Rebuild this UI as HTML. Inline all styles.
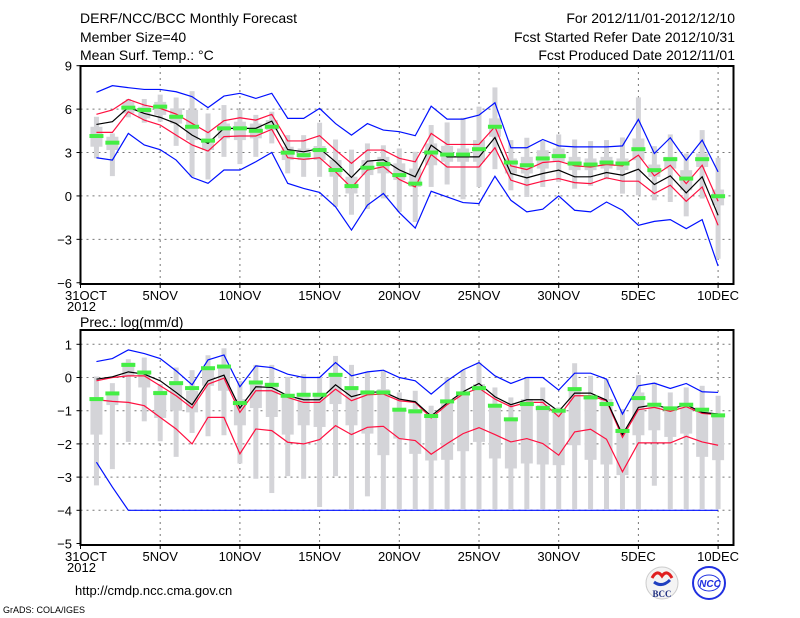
<!DOCTYPE html>
<html><head><meta charset="utf-8"><style>
html,body{margin:0;padding:0;background:#fff;}
svg{display:block;font-family:"Liberation Sans",sans-serif;}
</style></head><body>
<svg id="c" width="800" height="618" viewBox="0 0 800 618" xmlns="http://www.w3.org/2000/svg">
<text x="80" y="23" font-size="14">DERF/NCC/BCC Monthly Forecast</text>
<text x="80" y="42" font-size="14">Member Size=40</text>
<text x="80" y="60" font-size="14">Mean Surf. Temp.: °C</text>
<text x="735" y="23" font-size="14" text-anchor="end">For 2012/11/01-2012/12/10</text>
<text x="735" y="42" font-size="14" text-anchor="end">Fcst Started Refer Date 2012/10/31</text>
<text x="735" y="60" font-size="14" text-anchor="end">Fcst Produced Date 2012/11/01</text>
<text x="80" y="327" font-size="14">Prec.: log(mm/d)</text>
<text x="75" y="595" font-size="13">http://cmdp.ncc.cma.gov.cn</text>
<text x="3" y="613" font-size="9">GrADS: COLA/IGES</text>
<g>
<circle cx="662" cy="583" r="16" fill="#f4f4f4" stroke="#ccc"/>
<path d="M652 578 q5 -9 10 -2 q5 -7 10 2" fill="none" stroke="#e02020" stroke-width="3"/>
<path d="M654 582 q8 6 16 -2" fill="none" stroke="#2040c0" stroke-width="3"/>
<text x="662" y="597" font-size="9" font-weight="bold" text-anchor="middle" fill="#203080" font-family="Liberation Serif,serif">BCC</text>
</g>
<g>
<circle cx="709" cy="583" r="16" fill="#fff" stroke="#2030e0" stroke-width="2"/>
<ellipse cx="709" cy="583" rx="11" ry="8" fill="none" stroke="#2030e0"/>
<text x="710" y="587" font-size="10" font-weight="bold" font-style="italic" text-anchor="middle" fill="#2030e0">NCC</text>
</g>
<g id="plots"></g>
</svg>
<script>
// ---- Temperature panel data (days Nov1..Dec10) ----
const tMean=[4.94,5.13,6.12,5.7,5.43,5.0,4.2,3.63,4.67,4.67,4.67,5.17,3.2,3.05,3.28,2.36,1.28,2.4,2.5,1.8,1.32,3.51,2.7,2.7,2.7,4.04,1.55,1.25,1.55,1.78,1.32,1.32,1.62,1.43,1.85,0.79,1.39,0.21,1.32,-1.34];
const tRedHi=[5.64,5.94,6.67,6.28,6.05,5.66,5.01,4.37,5.2,5.4,5.24,5.64,3.8,3.8,4.16,3.17,2.25,3.17,3.17,2.6,2.36,4.32,3.56,3.56,3.56,4.78,2.08,1.82,2.31,2.4,2.08,2.0,2.17,2.08,2.82,1.39,2.12,0.85,2.12,-0.37];
const tRedLo=[4.39,4.39,5.82,5.24,4.9,4.2,3.52,3.1,4.1,4.14,4.14,4.6,2.64,2.53,2.64,1.67,0.57,1.79,2.02,1.14,0.62,2.86,2.0,2.0,2.0,3.33,1.09,0.74,1.02,1.2,0.92,0.85,1.25,1.02,1.02,0.16,0.74,-0.37,0.62,-2.03];
const tBlueHi=[7.16,7.62,7.48,7.36,7.36,7.2,6.86,6.1,6.9,7.09,6.74,7.09,5.36,5.36,6.05,5.0,4.2,5.0,4.55,4.44,4.16,6.2,5.31,5.31,5.59,6.44,3.33,3.33,3.9,3.46,3.39,3.39,3.39,3.46,5.29,2.93,4.02,2.47,3.86,1.66];
const tBlueLo=[2.64,2.48,4.32,3.52,3.2,2.48,1.28,0.87,1.79,1.79,2.36,3.0,0.87,0.52,0.24,-0.75,-2.36,-0.64,0.17,-1.15,-2.22,0.32,-0.07,-0.46,-0.53,1.36,-0.3,-1.1,-0.92,0,-0.99,-1.1,-0.42,-0.99,-2.03,-1.76,-1.64,-2.26,-1.64,-4.85];
const tObs=[4.14,3.68,6.1,5.94,6.17,5.47,4.78,3.82,4.67,4.67,4.5,4.78,2.99,2.82,3.17,1.79,0.68,1.95,2.2,1.44,0.85,3.0,2.86,2.86,3.23,4.78,2.31,2.12,2.59,2.75,2.24,2.17,2.31,2.24,3.23,1.78,2.54,1.2,2.54,-0.02];
const tWhiskHi=[5.47,4.32,6.7,6.7,7.0,6.8,7.24,5.7,6.28,5.94,5.6,5.82,4.2,4.2,5.06,3.9,3.2,3.63,3.5,3.28,3.05,4.9,5.08,5.4,6.17,7.5,3.86,4.02,3.79,4.25,3.9,3.79,3.86,4.04,6.81,3.44,4.25,2.93,4.55,2.63];
const tWhiskLo=[2.6,1.37,5.43,5.06,5.13,3.46,1.32,1.14,2.7,2.2,2.7,3.63,1.56,1.32,1.32,-0.75,-1.3,-0.9,-0.17,-1.1,-1.8,0.62,0.79,-0.23,0.62,1.85,0.39,-0.07,0.62,0.97,0.5,0.69,1.15,0.16,0.05,-0.3,-0.42,-1.41,-0.18,-4.34];
const tBoxHi=[4.78,4.09,6.5,6.16,6.5,6.05,5.94,3.98,5.0,5.13,5.0,5.24,3.4,3.28,3.45,2.48,1.33,2.48,2.7,2.25,1.89,3.63,3.46,3.28,3.86,5.36,2.59,2.7,3.16,3.28,2.7,2.59,2.7,2.59,3.97,2.17,2.7,1.78,2.93,0.44];
const tBoxLo=[3.4,3.17,5.7,5.36,5.6,5.0,3.86,3.17,3.98,3.86,3.98,4.55,2.48,2.48,2.48,1.33,0.17,1.44,1.56,1.1,0.62,2.12,2.36,2.36,2.36,4.09,1.55,1.55,1.89,2.36,1.78,1.78,1.89,1.78,2.47,1.32,1.89,0.39,2.0,-0.65];
const tTicks=[9,6,3,0,-3,-6];
// ---- Precipitation panel data ----
const pMean=[-0.05,0.02,0.17,0.1,-0.1,-0.45,-0.82,-0.1,0.07,-0.92,-0.28,-0.3,-0.55,-0.67,-0.67,-0.22,-0.58,-0.45,-0.43,-0.65,-0.73,-1.16,-0.77,-0.43,-0.18,-0.58,-0.82,-0.67,-0.67,-1.02,-0.47,-0.47,-0.68,-1.72,-0.9,-0.82,-0.95,-0.82,-1.05,-1.1];
const pRedHi=[-0.1,0.0,0.05,0.05,-0.25,-0.55,-0.92,-0.2,-0.02,-1.05,-0.4,-0.4,-0.6,-0.75,-0.75,-0.35,-0.7,-0.52,-0.5,-0.7,-0.75,-1.22,-0.82,-0.5,-0.32,-0.65,-0.88,-0.75,-0.75,-1.18,-0.55,-0.55,-0.7,-1.8,-0.97,-0.9,-1.02,-0.88,-1.08,-1.12];
const pRedLo=[-0.67,-0.72,-0.75,-0.85,-1.2,-1.55,-2.0,-1.2,-1.2,-2.3,-1.55,-1.6,-1.95,-2.0,-1.87,-1.45,-1.72,-1.5,-1.47,-1.84,-1.9,-2.31,-1.99,-1.69,-1.51,-1.72,-1.94,-1.84,-1.99,-2.34,-1.64,-1.56,-1.86,-2.84,-1.97,-1.97,-1.97,-1.77,-1.94,-2.04];
const pBlueHi=[0.48,0.57,0.83,0.72,0.57,0.2,-0.22,0.53,0.68,-0.28,0.35,0.3,0.1,0,0,0.45,0.05,0.17,0.22,0,-0.1,-0.5,-0.1,0.23,0.45,0.05,-0.18,0,0,-0.38,0.13,0.13,-0.05,-1.1,-0.25,-0.17,-0.33,-0.18,-0.43,-0.45];
const pBlueLo=[-2.55,-3.3,-4,-4,-4,-4,-4,-4,-4,-4,-4,-4,-4,-4,-4,-4,-4,-4,-4,-4,-4,-4,-4,-4,-4,-4,-4,-4,-4,-4,-4,-4,-4,-4,-4,-4,-4,-4,-4,-4];
const pObs=[-0.65,-0.48,0.38,0.15,-0.47,-0.17,-0.32,0.28,0.33,-0.77,-0.15,-0.22,-0.55,-0.52,-0.52,0.08,-0.32,-0.45,-0.45,-0.97,-1.02,-1.16,-0.72,-0.48,-0.32,-0.85,-1.26,-0.8,-0.92,-1.0,-0.35,-0.6,-0.8,-1.61,-0.62,-0.82,-0.93,-0.82,-0.97,-1.14];
const pWhiskHi=[0.03,-0.17,0.55,0.6,-0.2,0.3,0.22,0.67,0.88,-0.1,0.38,0.38,0.02,0.1,0.03,0.65,0.38,0.15,0.2,-0.45,-0.4,-0.85,0,0.23,0.45,-0.3,-0.6,0,-0.3,-0.9,0.43,0.05,-0.05,-0.95,0.07,-0.15,-0.45,-0.3,-0.25,-0.55];
const pWhiskLo=[-3.25,-2.76,-1.94,-1.32,-1.92,-2.39,-1.67,-1.77,-1.74,-2.59,-3.05,-3.48,-2.97,-3.05,-3.9,-2.97,-3.96,-3.58,-3.96,-3.96,-3.96,-3.96,-3.96,-3.96,-3.96,-3.96,-3.96,-3.96,-3.96,-3.96,-3.96,-3.96,-3.96,-3.96,-3.96,-3.26,-3.96,-3.96,-3.96,-3.96];
const pBoxHi=[-0.7,-0.45,0.45,0.15,-0.4,-0.2,-0.4,0.25,0.35,-0.65,-0.1,-0.25,-0.6,-0.55,-0.55,0.05,-0.3,-0.4,-0.35,-0.95,-0.95,-1.16,-0.7,-0.45,-0.2,-0.8,-1.26,-0.65,-0.83,-1.04,-0.35,-0.55,-0.65,-1.54,-0.45,-0.8,-0.99,-0.9,-0.95,-1.16];
const pBoxLo=[-1.72,-0.83,0.05,-0.3,-1.22,-1.0,-1.05,-0.25,-0.4,-1.44,-0.92,-1.19,-1.72,-1.44,-1.49,-0.8,-1.44,-1.69,-2.34,-1.84,-2.3,-2.5,-2.48,-2.22,-1.94,-2.44,-2.74,-2.59,-2.62,-2.64,-2.04,-2.48,-2.62,-2.94,-1.74,-1.59,-1.79,-1.69,-2.39,-2.49];
const pTicks=[1,0,-1,-2,-3,-4,-5];
const xTickDays=[0,5,10,15,20,25,30,35,40];
const xTickLabels=["31OCT","5NOV","10NOV","15NOV","20NOV","25NOV","30NOV","5DEC","10DEC"];

const NS="http://www.w3.org/2000/svg";
const root=document.getElementById('plots');
function mk(tag,attrs,parent){const e=document.createElementNS(NS,tag);for(const k in attrs)e.setAttribute(k,attrs[k]);(parent||root).appendChild(e);return e;}
const X0=80.5, X1=733.5;
function xs(d){return X0+d*15.94;}

function panel(cfg){
  const g=mk('g',{});
  
  
  const ys=v=>cfg.y0+(cfg.vTop-v)*cfg.k;
  cfg.ticks.forEach(t=>{
    const y=ys(t);
    if(y>cfg.top+2&&y<cfg.bot-2){
      const l=mk('line',{x1:X0,x2:X1,y1:y,y2:y,stroke:'#777','stroke-dasharray':'2,4','stroke-width':1},g);
      
      
    }
    const tx=mk('text',{x:72,y:y+5,'font-size':13,'text-anchor':'end'},g);
    
    
    tx.textContent=t<0?'\u2212'+(-t):String(t);
    mk('line',{x1:X0-4,x2:X0,y1:y,y2:y,stroke:'#000'},g);
  });
  xTickDays.forEach((d,i)=>{
    const x=xs(d);
    if(i>0){
      const l=mk('line',{x1:x,x2:x,y1:cfg.top,y2:cfg.bot,stroke:'#777','stroke-dasharray':'2,4'},g);
      
      
    }
    mk('line',{x1:x,x2:x,y1:cfg.bot,y2:cfg.bot+4,stroke:'#000'},g);
    const tx=mk('text',{x:i==0?65:x,y:cfg.bot+16,'font-size':13,'text-anchor':i==0?'start':'middle'},g);
    
    
    tx.textContent=xTickLabels[i];
  });
  const yr=mk('text',{x:67,y:cfg.bot+27,'font-size':13},g);
  
  
  yr.textContent='2012';
  for(let i=0;i<cfg.wh.length;i++){
    const x=xs(i+1);
    const w=mk('rect',{x:x-2.5,y:ys(cfg.wh[i]),width:5,height:Math.max(1,ys(cfg.wl[i])-ys(cfg.wh[i])),fill:'#d4d4d8'},g);
    
    
    const b=mk('rect',{x:x-6,y:ys(cfg.bh[i]),width:12,height:Math.max(1,ys(cfg.bl[i])-ys(cfg.bh[i])),fill:'#d4d4d8'},g);
    
    
  }
  function line(arr,col,name){
    const p=mk('polyline',{points:arr.map((v,i)=>xs(i+1)+','+ys(v)).join(' '),fill:'none',stroke:col,'stroke-width':1.2},g);
    
    
  }
  line(cfg.blo,'#0010ff','blue-min-line');
  line(cfg.bhi,'#0010ff','blue-max-line');
  line(cfg.rlo,'#ff1040','red-lower-line');
  line(cfg.rhi,'#ff1040','red-upper-line');
  line(cfg.mean,'#000','ensemble-mean-line');
  cfg.obs.forEach((v,i)=>{
    const r=mk('rect',{x:xs(i+1)-7,y:ys(v)-2,width:14,height:4,fill:'#44ee44'},g);
    
    
  });
  const fr=mk('rect',{x:X0,y:cfg.top,width:X1-X0,height:cfg.bot-cfg.top,fill:'none',stroke:'#000','stroke-width':2},g);
  
  
}
panel({name:'temperature-panel',top:66,bot:284,y0:65.7,vTop:9,k:14.47,ticks:tTicks,
  wh:tWhiskHi,wl:tWhiskLo,bh:tBoxHi,bl:tBoxLo,bhi:tBlueHi,blo:tBlueLo,rhi:tRedHi,rlo:tRedLo,mean:tMean,obs:tObs});
panel({name:'precipitation-panel',top:330,bot:545,y0:344.3,vTop:1,k:33.2,ticks:pTicks,
  wh:pWhiskHi,wl:pWhiskLo,bh:pBoxHi,bl:pBoxLo,bhi:pBlueHi,blo:pBlueLo,rhi:pRedHi,rlo:pRedLo,mean:pMean,obs:pObs});
</script>
</body></html>
